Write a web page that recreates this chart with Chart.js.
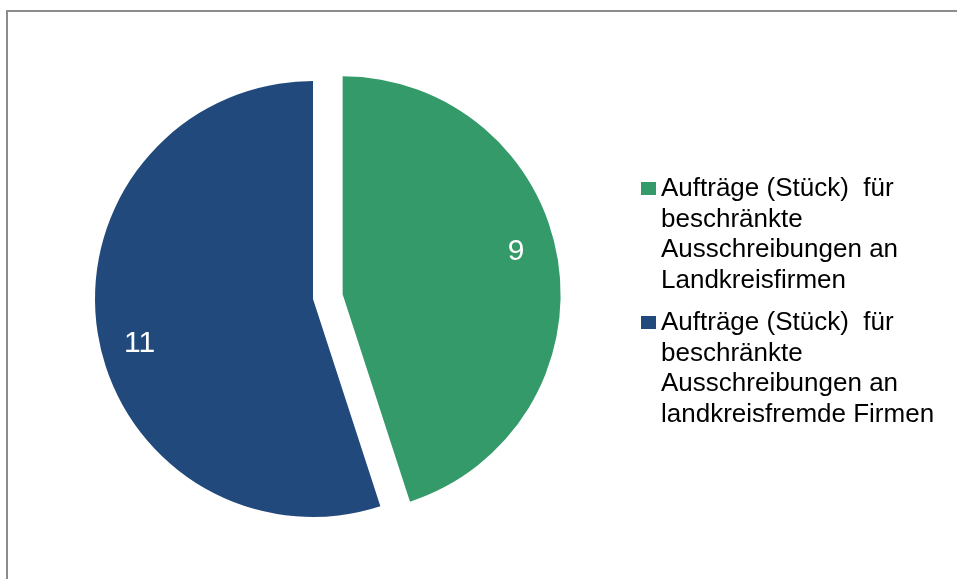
<!DOCTYPE html>
<html>
<head>
<meta charset="utf-8">
<script src="https://cdn.jsdelivr.net/npm/chart.js@4/dist/chart.umd.min.js"></script>
<style>
  html, body { margin: 0; padding: 0; background: #fff; overflow: hidden; }
  #frame {
    position: absolute; left: 6px; top: 10px;
    width: 1000px; height: 1000px;
    border: 2px solid #8c8c8c;
  }
  #pie { position: absolute; left: 0; top: 0; }
</style>
</head>
<body>
<div id="frame"></div>
<canvas id="pie" width="957" height="579"></canvas>
<script>
'use strict';

// categories (legend text, already wrapped as in the original)
const categories = [
  ['Aufträge (Stück)  für', 'beschränkte', 'Ausschreibungen an', 'Landkreisfirmen'],
  ['Aufträge (Stück)  für', 'beschränkte', 'Ausschreibungen an', 'landkreisfremde Firmen']
];
const values = [9, 11];
const sliceColors = ['#349a69', '#21497c'];
const explode = [30, 0]; // px the slice is pulled out

const fontFamily = '"Liberation Sans", Arial, sans-serif';

function midAngle(arc) {
  const p = arc.getProps(['startAngle', 'endAngle'], true);
  return (p.startAngle + p.endAngle) / 2;
}

// draws the library's arcs, shifted outward (exploded slice),
// then the value labels and the wrapped legend
const pieExtras = {
  id: 'pieExtras',
  beforeDatasetsDraw(chart) {
    const ctx = chart.ctx;
    chart.getDatasetMeta(0).data.forEach((arc, i) => {
      const a = midAngle(arc);
      ctx.save();
      ctx.translate(Math.cos(a) * explode[i], Math.sin(a) * explode[i]);
      arc.draw(ctx);
      ctx.restore();
    });
    return false;
  },
  afterDraw(chart) {
    const ctx = chart.ctx;
    const meta = chart.getDatasetMeta(0);

    ctx.save();
    ctx.fillStyle = '#ffffff';
    ctx.font = '30px ' + fontFamily;
    ctx.textAlign = 'center';
    ctx.textBaseline = 'middle';
    meta.data.forEach((arc, i) => {
      const p = arc.getProps(['x', 'y', 'outerRadius'], true);
      const mid = midAngle(arc);
      const cx = p.x + Math.cos(mid) * explode[i];
      const cy = p.y + Math.sin(mid) * explode[i];
      const a = mid - 5 * Math.PI / 180;
      const r = p.outerRadius * 0.82;
      ctx.fillText(String(values[i]), cx + Math.cos(a) * r, cy + Math.sin(a) * r + 1);
    });
    ctx.restore();

    // legend
    ctx.save();
    ctx.font = '26px ' + fontFamily;
    ctx.textAlign = 'left';
    ctx.textBaseline = 'alphabetic';
    const lineH = 30.5;
    let y = 196;
    categories.forEach((lines, i) => {
      ctx.fillStyle = sliceColors[i];
      ctx.fillRect(641, y - 14, 15, 13);
      ctx.fillStyle = '#000000';
      lines.forEach((t, j) => ctx.fillText(t, 661, y + j * lineH));
      y += lines.length * lineH + 12;
    });
    ctx.restore();
  }
};

new Chart(document.getElementById('pie'), {
  type: 'pie',
  data: {
    labels: categories.map(l => l.join(' ')),
    datasets: [{
      data: values,
      backgroundColor: sliceColors,
      borderWidth: 0
    }]
  },
  options: {
    responsive: false,
    animation: false,
    radius: 218,
    layout: { padding: { left: 0, right: 331, top: 19, bottom: 0 } },
    plugins: {
      legend: { display: false },
      tooltip: { enabled: false }
    }
  },
  plugins: [pieExtras]
});
</script>
</body>
</html>
